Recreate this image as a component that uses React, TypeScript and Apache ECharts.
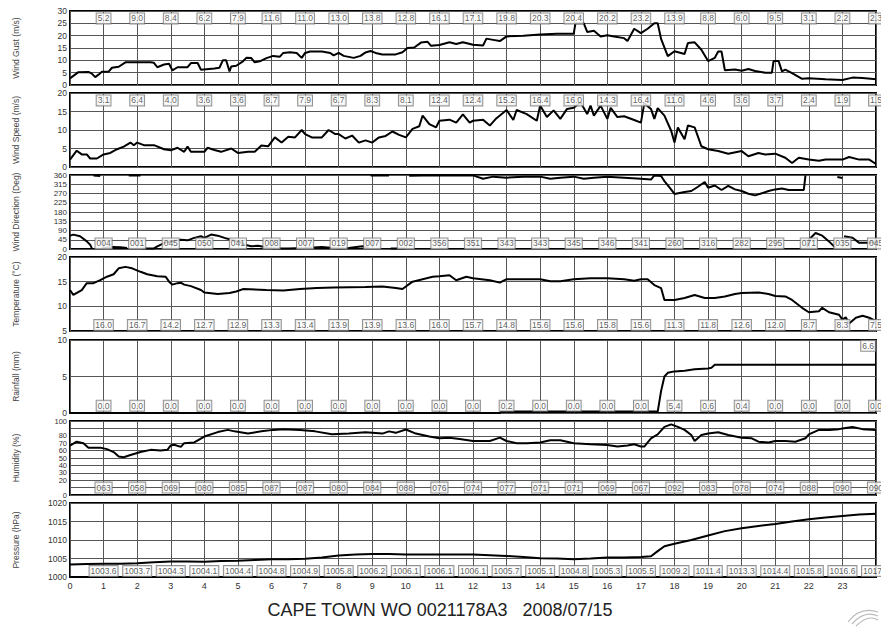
import React, { useEffect, useRef } from "react";
import * as echarts from "echarts";

const hourTicks = [0, 1, 2, 3, 4, 5, 6, 7, 8, 9, 10, 11, 12, 13, 14, 15, 16, 17, 18, 19, 20, 21, 22, 23];

const gust: number[][] = [
  [0, 2.7], [0.25, 5.2], [0.55, 5.3], [0.65, 4.6], [0.75, 3.2], [0.85, 4.2], [0.95, 5.4], [1.15, 5.4], [1.25, 7], [1.45, 7.4],
  [1.65, 9.2], [2.4, 9.2], [2.5, 9], [2.6, 7.2], [2.8, 8.3], [2.95, 8.6], [3.05, 5.9], [3.2, 7.2], [3.5, 7.2], [3.6, 8.9],
  [3.8, 8.9], [3.9, 6.2], [4.3, 6.7], [4.45, 7], [4.55, 10], [4.65, 10], [4.75, 5.5], [4.8, 7.5], [4.95, 7.8], [5.15, 9.6],
  [5.25, 11], [5.4, 10.9], [5.5, 9.2], [5.65, 9.6], [5.85, 10.9], [6.05, 11.8], [6.25, 11.5], [6.35, 13], [6.55, 13.3],
  [6.75, 13], [6.9, 11], [7.0, 13], [7.15, 13.6], [7.5, 13.6], [7.75, 13], [7.85, 12], [8.0, 13], [8.15, 11.8], [8.45, 11],
  [8.65, 11.8], [8.8, 13.2], [8.95, 13.8], [9.1, 13], [9.3, 12.4], [9.7, 12.4], [9.9, 13.3], [10.05, 15], [10.25, 15.2],
  [10.45, 17.2], [10.65, 17.5], [10.75, 15.9], [11.0, 16.2], [11.3, 17.3], [11.5, 16.6], [11.7, 17.3], [12.0, 16.3],
  [12.3, 16], [12.4, 18.8], [12.6, 18.3], [12.8, 17.8], [13.0, 19.7], [13.5, 20], [14.0, 20.5], [14.5, 20.8], [15.0, 20.8],
  [15.05, 25], [15.3, 25], [15.4, 21.5], [15.6, 22], [15.8, 19.7], [16.0, 20.2], [16.2, 19.7], [16.5, 19], [16.6, 17.8],
  [16.8, 22.8], [17.0, 21], [17.2, 22.8], [17.4, 25], [17.5, 25], [17.6, 18.7], [17.8, 11.7], [18.0, 13.7], [18.3, 12.6],
  [18.4, 17], [18.6, 17.3], [18.8, 14.3], [19.0, 9.7], [19.2, 11], [19.3, 13.6], [19.4, 13.6], [19.5, 6], [19.8, 6.3],
  [20.0, 5.8], [20.2, 6.5], [20.4, 5.7], [20.7, 5], [20.9, 5], [20.95, 9.7], [21.1, 9.7], [21.2, 5.5], [21.3, 6.2],
  [21.5, 4.8], [21.8, 2.5], [22.0, 2.7], [22.5, 2.3], [23.0, 2.0], [23.3, 3], [23.6, 2.8], [24, 2.3],
];

const speed: number[][] = [
  [0, 2], [0.2, 4.4], [0.35, 3.4], [0.5, 3.4], [0.6, 2.3], [0.8, 2.3], [1.0, 3.4], [1.2, 3.8], [1.4, 4.8], [1.6, 5.5],
  [1.8, 6.6], [1.9, 5.9], [2.0, 6.6], [2.2, 5.9], [2.5, 5.9], [2.8, 4.8], [3.0, 4.5], [3.2, 5.2], [3.4, 4.1], [3.5, 5.5],
  [3.6, 4.1], [4.0, 4.1], [4.1, 5.2], [4.3, 4.6], [4.5, 4.1], [4.8, 5], [5.0, 3.8], [5.3, 4.1], [5.5, 4.1], [5.7, 5.8],
  [5.9, 5.6], [6.1, 8], [6.3, 6.6], [6.5, 8.2], [6.7, 8], [6.9, 10], [7.0, 8.9], [7.2, 8], [7.5, 8], [7.7, 10], [7.9, 8.9],
  [8.0, 8.9], [8.2, 7.7], [8.4, 8.5], [8.6, 6.6], [8.8, 7.2], [9.0, 6.6], [9.2, 8], [9.4, 8.4], [9.6, 9.6], [9.8, 8.7],
  [10.0, 8], [10.2, 10.3], [10.4, 11], [10.5, 13.9], [10.7, 11.6], [10.9, 10.7], [11.0, 12.5], [11.3, 12.8], [11.5, 12],
  [11.7, 14.2], [11.9, 12], [12.0, 12.5], [12.3, 12.8], [12.5, 11.2], [12.7, 13.2], [13.0, 15.4], [13.2, 12.7],
  [13.3, 15.4], [13.6, 14.3], [13.9, 12.5], [14.0, 16.6], [14.2, 13.5], [14.4, 15.3], [14.6, 13], [14.8, 15.7],
  [15.0, 16], [15.2, 17.5], [15.4, 14.3], [15.5, 16.6], [15.6, 13.9], [15.8, 16.6], [16.0, 13], [16.1, 16], [16.3, 13.5],
  [16.5, 13.7], [16.8, 12.7], [17.0, 12], [17.1, 17.2], [17.3, 15.7], [17.4, 13], [17.5, 15.9], [17.7, 13.9],
  [17.9, 9.8], [18.0, 6.6], [18.1, 10.7], [18.3, 7.5], [18.4, 11.2], [18.6, 10.7], [18.8, 5.6], [19.0, 4.8], [19.3, 4.3],
  [19.6, 3.6], [20.0, 4.3], [20.2, 2.9], [20.5, 3.8], [20.7, 3.4], [21.0, 3.6], [21.3, 2.5], [21.5, 1.1], [21.7, 2.5],
  [22.0, 2], [22.3, 1.7], [22.5, 2], [23.0, 2], [23.2, 2.7], [23.5, 2], [23.8, 2], [24, 0.8],
];

const direction: number[][] = [
  [0, 65], [0.1, 70], [0.3, 62], [0.5, 37], [0.6, 21], [0.65, 4], [0.7, 357], [0.9, 355], [0.95, 3], [1.0, 5], [1.3, 10],
  [1.5, 8], [1.7, 5], [1.75, 358], [2.1, 357], [2.15, 3], [2.5, 3], [2.6, 13], [2.8, 29], [3.0, 37], [3.3, 45], [3.5, 42],
  [3.7, 54], [3.9, 62], [4.0, 54], [4.2, 70], [4.4, 65], [4.6, 54], [4.8, 45], [5.0, 37], [5.2, 21], [5.4, 13], [5.6, 16],
  [5.8, 10], [6.0, 3], [6.5, 3], [7.0, 5], [7.5, 10], [8.0, 3], [8.3, 5], [8.7, 13], [8.9, 5], [8.95, 358], [9.5, 358],
  [9.55, 3], [10.0, 3], [10.1, 356], [10.5, 357], [11.0, 357], [11.5, 358], [12.0, 358], [12.3, 342], [12.6, 352],
  [13.0, 347], [13.5, 352], [14.0, 352], [14.3, 342], [14.6, 347], [15.0, 352], [15.3, 342], [15.6, 347], [16.0, 352],
  [16.5, 347], [17.0, 342], [17.3, 338], [17.4, 358], [17.6, 355], [17.7, 330], [17.85, 300], [18.0, 268], [18.3, 277],
  [18.5, 282], [18.7, 303], [18.9, 326], [19.0, 298], [19.2, 309], [19.4, 287], [19.6, 307], [19.8, 290], [20.0, 282],
  [20.2, 269], [20.4, 261], [20.6, 271], [20.8, 282], [21.0, 290], [21.2, 294], [21.4, 287], [21.6, 287], [21.85, 287],
  [21.9, 358], [21.95, 8], [22.0, 45], [22.2, 78], [22.4, 65], [22.6, 37], [22.8, 5], [22.85, 350], [23.0, 345],
  [23.05, 62], [23.3, 55], [23.5, 30], [23.7, 30], [24, 32],
];

const temperature: number[][] = [
  [0, 13.3], [0.1, 12.3], [0.35, 13.3], [0.5, 14.7], [0.7, 14.7], [0.9, 15.3], [1.1, 16], [1.3, 16.5], [1.45, 17.7],
  [1.65, 18], [1.85, 17.7], [2.1, 17], [2.3, 16.5], [2.6, 16.1], [2.85, 16], [2.95, 15], [3.05, 14.4], [3.2, 14.7],
  [3.3, 14.8], [3.4, 14.4], [3.6, 14.1], [3.9, 13.3], [4.0, 12.8], [4.4, 12.5], [4.75, 12.7], [4.95, 13], [5.15, 13.5],
  [5.85, 13.3], [6.35, 13.2], [6.85, 13.5], [7.35, 13.7], [7.85, 13.8], [8.8, 13.9], [9.3, 14], [9.7, 13.7], [9.9, 13.5],
  [10.2, 15], [10.5, 15.5], [10.8, 16], [11, 16.1], [11.3, 16.3], [11.5, 15.3], [11.8, 16], [12.0, 15.7], [12.5, 15.3],
  [12.8, 14.8], [13.0, 15.5], [13.5, 15.5], [14.0, 15.5], [14.3, 15.1], [14.6, 15.1], [15.0, 15.5], [15.5, 15.7],
  [16.0, 15.7], [16.5, 15.5], [16.8, 15.2], [17.0, 15.5], [17.2, 15.5], [17.4, 14.3], [17.6, 13.7], [17.7, 11.3],
  [18, 11.3], [18.3, 11.7], [18.6, 12.3], [18.9, 11.7], [19.2, 11.7], [19.5, 12], [19.8, 12.5], [20, 12.7], [20.5, 12.8],
  [20.8, 12.5], [21, 12.1], [21.3, 12], [21.5, 11.3], [21.8, 9.7], [22, 8.8], [22.3, 9], [22.4, 9.7], [22.6, 8.8],
  [22.9, 8.3], [23, 7.3], [23.1, 7.8], [23.2, 6.5], [23.4, 7.7], [23.6, 8.1], [23.8, 7.7], [24, 7],
];

const rainfall: number[][] = [
  [0, 0], [12.8, 0], [12.85, 0.2], [17.5, 0.2], [17.6, 3], [17.7, 5], [17.8, 5.5], [18.0, 5.7], [18.3, 5.8], [18.6, 6.0],
  [19.0, 6.1], [19.1, 6.2], [19.2, 6.6], [24, 6.6],
];

const humidity: number[][] = [
  [0, 66.7], [0.2, 72], [0.4, 70], [0.55, 64], [0.9, 64], [1.1, 62], [1.3, 58], [1.45, 52], [1.6, 51], [1.8, 54], [2.1, 58],
  [2.4, 61], [2.7, 60], [2.9, 61], [3.0, 67], [3.1, 68], [3.3, 65], [3.4, 70], [3.7, 71], [4.0, 79], [4.4, 85], [4.7, 88],
  [4.9, 86], [5.3, 83], [5.7, 86], [6.05, 88], [6.35, 89], [6.85, 88], [7.3, 86], [7.8, 82], [8.3, 83], [8.8, 84.7],
  [9.3, 83], [9.5, 86], [9.7, 84], [10, 88.5], [10.3, 83], [10.7, 79], [11, 76.6], [11.3, 77.5], [11.6, 75.7], [12, 73],
  [12.5, 73], [12.8, 77.5], [13, 73], [13.3, 70], [13.6, 70], [14, 71], [14.3, 74], [14.6, 74], [15, 70], [15.5, 68.5],
  [16, 67.6], [16.3, 65.5], [16.6, 67], [16.8, 68.5], [17, 65.5], [17.1, 65.5], [17.3, 76.6], [17.5, 82], [17.7, 92],
  [17.9, 95.5], [18.1, 92], [18.3, 88], [18.5, 81], [18.6, 73], [18.8, 81], [19, 83], [19.3, 84.7], [19.6, 81],
  [20, 77.5], [20.3, 76.6], [20.5, 72], [20.8, 71], [21, 73], [21.3, 73], [21.6, 72], [21.9, 76.6], [22, 82], [22.3, 88],
  [22.6, 88], [22.9, 89], [23, 90], [23.3, 92], [23.6, 89], [24, 88],
];

const pressure: number[][] = [
  [0, 1003.4], [0.5, 1003.5], [1, 1003.6], [1.5, 1003.6], [2, 1003.7], [2.5, 1004.0], [3, 1004.2], [3.5, 1004.2],
  [4, 1004.1], [4.5, 1004.3], [5, 1004.4], [5.5, 1004.6], [6, 1004.8], [6.5, 1004.8], [7, 1004.9], [7.5, 1005.3],
  [8, 1005.8], [8.5, 1006.1], [9, 1006.2], [9.5, 1006.2], [10, 1006.1], [11, 1006.1], [12, 1006.1], [12.5, 1005.9],
  [13, 1005.7], [13.5, 1005.4], [14, 1005.1], [14.5, 1005.0], [15, 1004.8], [15.5, 1005.0], [16, 1005.3], [16.5, 1005.3],
  [17, 1005.4], [17.3, 1005.6], [17.5, 1007], [17.7, 1008.3], [18, 1009.0], [18.5, 1010.0], [19, 1011.2], [19.5, 1012.4],
  [20, 1013.2], [20.5, 1013.8], [21, 1014.3], [21.5, 1015.0], [22, 1015.6], [22.5, 1016.1], [23, 1016.5], [23.5, 1016.9],
  [24, 1017.1],
];

const gustLabels = ["5.2", "9.0", "8.4", "6.2", "7.9", "11.6", "11.0", "13.0", "13.8", "12.8", "16.1", "17.1", "19.8", "20.3", "20.4", "20.2", "23.2", "13.9", "8.8", "6.0", "9.5", "3.1", "2.2", "2.3"];
const speedLabels = ["3.1", "6.4", "4.0", "3.6", "3.6", "8.7", "7.9", "6.7", "8.3", "8.1", "12.4", "12.4", "15.2", "16.4", "16.0", "14.3", "16.4", "11.0", "4.6", "3.6", "3.7", "2.4", "1.9", "1.5"];
const directionLabels = ["004", "001", "045", "050", "041", "008", "007", "019", "007", "002", "356", "351", "343", "343", "345", "346", "341", "260", "316", "282", "295", "071", "035", "045"];
const temperatureLabels = ["16.0", "16.7", "14.2", "12.7", "12.9", "13.3", "13.4", "13.9", "13.9", "13.6", "16.0", "15.7", "14.8", "15.6", "15.6", "15.8", "15.6", "11.3", "11.8", "12.6", "12.0", "8.7", "8.3", "7.5"];
const rainfallLabels = ["0.0", "0.0", "0.0", "0.0", "0.0", "0.0", "0.0", "0.0", "0.0", "0.0", "0.0", "0.0", "0.2", "0.0", "0.0", "0.0", "0.0", "5.4", "0.6", "0.4", "0.0", "0.0", "0.0", "0.0"];
const rainfallTotal = "6.6";
const humidityLabels = ["063", "058", "069", "080", "085", "087", "087", "080", "084", "088", "076", "074", "077", "071", "071", "069", "067", "092", "083", "078", "074", "088", "090", "090"];
const pressureLabels = ["1003.6", "1003.7", "1004.3", "1004.1", "1004.4", "1004.8", "1004.9", "1005.8", "1006.2", "1006.1", "1006.1", "1006.1", "1005.7", "1005.1", "1004.8", "1005.3", "1005.5", "1009.2", "1011.4", "1013.3", "1014.4", "1015.8", "1016.6", "1017.2"];

const title = "CAPE TOWN WO 0021178A3   2008/07/15";

function wrapBreak(d: number[][]): (number[] | null)[] {
  const out: (number[] | null)[] = [];
  for (let i = 0; i < d.length; i++) {
    if (i > 0 && Math.abs(d[i][1] - d[i - 1][1]) > 180) out.push(null);
    out.push(d[i]);
  }
  return out;
}

const FONT = "Liberation Sans, Arial, sans-serif";

export default function App() {
  const ref = useRef<HTMLDivElement>(null);
  useEffect(() => {
    if (!ref.current) return;
    const chart = echarts.init(ref.current, undefined, { renderer: "svg" });
    const panels = [
      { name: "Wind Gust (m/s)", min: 0, max: 30, interval: 5, data: gust, labels: gustLabels, boxY: 27, top: 11, h: 74, fs: 8.5 },
      { name: "Wind Speed (m/s)", min: 0, max: 20, interval: 5, data: speed, labels: speedLabels, boxY: 18, top: 93, h: 74, fs: 8.5 },
      { name: "Wind Direction (Deg)", min: 0, max: 360, interval: 45, data: direction, labels: directionLabels, boxY: 27, top: 175, h: 74, wrap: true, fs: 8 },
      { name: "Temperature (°C)", min: 5, max: 20, interval: 5, data: temperature, labels: temperatureLabels, boxY: 6.2, top: 257, h: 74, fs: 8.5 },
      { name: "Rainfall (mm)", min: 0, max: 10, interval: 5, data: rainfall, labels: rainfallLabels, boxY: 1, top: 340, h: 73, fs: 8.5 },
      { name: "Humidity (%)", min: 0, max: 100, interval: 10, data: humidity, labels: humidityLabels, boxY: 10, top: 421, h: 74, fs: 7.5 },
      { name: "Pressure (hPa)", min: 1000, max: 1020, interval: 5, data: pressure, labels: pressureLabels, boxY: 1001.6, top: 503, h: 74, fs: 8.5 },
    ];
    const last = panels.length - 1;
    const boxLabel = {
      show: true,
      position: "inside",
      formatter: (p: any) => p.data[2],
      backgroundColor: "#fff",
      borderColor: "#777",
      borderWidth: 1,
      padding: [1, 1, 0, 1],
      fontSize: 8.5,
      color: "#333",
      fontFamily: FONT,
    };
    const series: any[] = [];
    panels.forEach((p, i) => {
      series.push({
        type: "line",
        xAxisIndex: i,
        yAxisIndex: i,
        data: p.wrap ? wrapBreak(p.data) : p.data,
        showSymbol: false,
        connectNulls: false,
        lineStyle: { color: "#000", width: 2 },
        z: 3,
        silent: true,
      });
      series.push({
        type: "scatter",
        xAxisIndex: i,
        yAxisIndex: i,
        symbolSize: 0,
        clip: false,
        data: p.labels.map((t, k) => [k + 1, p.boxY, t]),
        label: boxLabel,
        z: 5,
        silent: true,
      });
    });
    series.push({
      type: "scatter",
      xAxisIndex: 4,
      yAxisIndex: 4,
      symbolSize: 0,
      clip: false,
      data: [[24, 9.2, rainfallTotal]],
      label: { ...boxLabel, position: "left", distance: 1 },
      z: 5,
      silent: true,
    });

    chart.setOption({
      animation: false,
      backgroundColor: "#fff",
      grid: panels.map((p) => ({
        left: 70,
        right: 5,
        top: p.top,
        height: p.h,
        show: true,
        borderColor: "#000",
        borderWidth: 2,
        backgroundColor: "transparent",
      })),
      xAxis: panels.map((p, i) => ({
        type: "value",
        gridIndex: i,
        min: 0,
        max: 24,
        interval: 1,
        axisLine: { show: i === last, lineStyle: { color: "#000", width: 2 } },
        axisTick: { show: false },
        axisLabel: {
          show: i === last,
          fontSize: 9,
          color: "#333",
          fontFamily: FONT,
          margin: 4,
          formatter: (v: number) => (hourTicks.includes(v) ? String(v) : ""),
        },
        splitLine: { show: true, lineStyle: { color: "#555", width: 1 } },
      })),
      yAxis: panels.map((p, i) => ({
        type: "value",
        gridIndex: i,
        min: p.min,
        max: p.max,
        interval: p.interval,
        name: p.name,
        nameLocation: "middle",
        nameRotate: 90,
        nameGap: 50,
        nameTextStyle: { fontSize: 8.5, color: "#444", fontFamily: FONT },
        axisLine: { show: false },
        axisTick: { show: false },
        axisLabel: {
          fontSize: p.fs,
          lineHeight: p.fs,
          color: "#333",
          fontFamily: FONT,
          margin: 3,
          showMinLabel: true,
          showMaxLabel: true,
          hideOverlap: false,
          formatter: (v: number) => String(v),
        },
        splitLine: { show: true, lineStyle: { color: "#555", width: 1 } },
      })),
      series,
      graphic: [
        {
          type: "text",
          x: 440,
          y: 610,
          style: {
            text: title,
            fontSize: 18,
            fontFamily: FONT,
            fill: "#222",
            textAlign: "center",
            textVerticalAlign: "middle",
          },
        },
        {
          type: "bezierCurve",
          shape: { x1: 848, y1: 622, x2: 878, y2: 612, cpx1: 860, cpy1: 606 },
          style: { stroke: "#bbb", lineWidth: 1.2, fill: null },
        },
        {
          type: "bezierCurve",
          shape: { x1: 852, y1: 624, x2: 878, y2: 616, cpx1: 864, cpy1: 610 },
          style: { stroke: "#bbb", lineWidth: 1.2, fill: null },
        },
        {
          type: "bezierCurve",
          shape: { x1: 856, y1: 626, x2: 878, y2: 620, cpx1: 868, cpy1: 614 },
          style: { stroke: "#bbb", lineWidth: 1.2, fill: null },
        },
      ],
    });
    return () => chart.dispose();
  }, []);
  return (
    <div
      ref={ref}
      style={{ position: "fixed", left: 0, top: 0, width: 881, height: 627, background: "#fff" }}
    />
  );
}
